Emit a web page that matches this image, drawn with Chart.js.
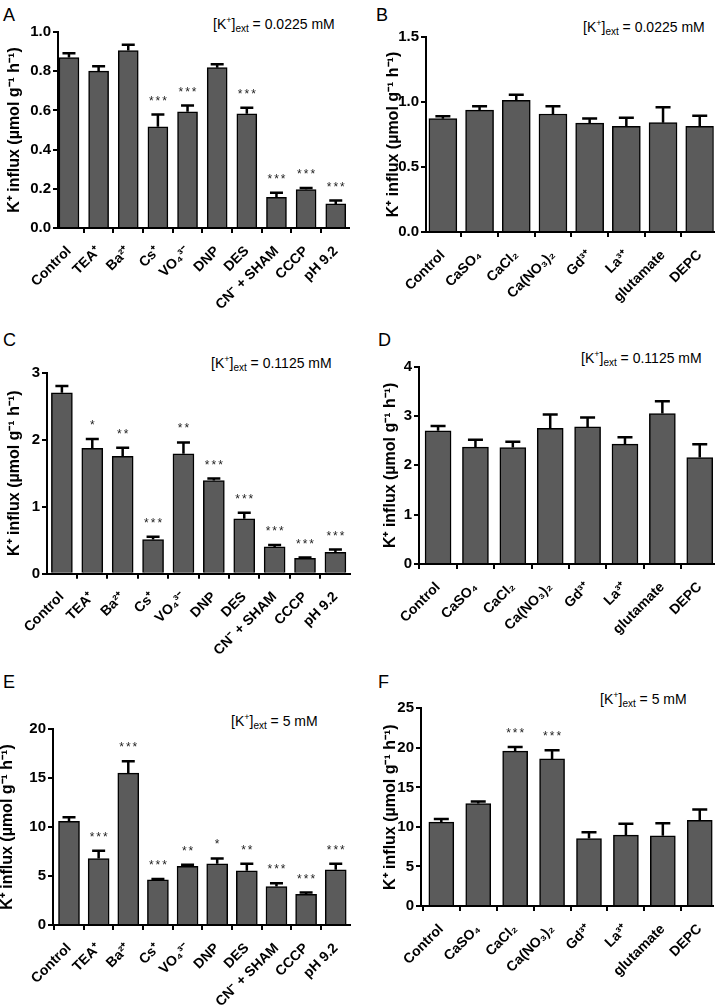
<!DOCTYPE html>
<html><head><meta charset="utf-8">
<script src="https://cdn.jsdelivr.net/npm/chart.js@4.4.0/dist/chart.umd.min.js"></script>
<style>
html,body{margin:0;padding:0;background:#fff;width:722px;height:1007px;overflow:hidden;position:relative;font-family:"Liberation Sans",Arial,sans-serif;}
canvas{position:absolute;}
.lbl{position:absolute;white-space:nowrap;color:#000;line-height:1;}
.pl{font-size:18px;}
.an{font-size:14px;}
.an .sup{font-size:9px;position:relative;top:-6px;}
.an .sub{font-size:10px;position:relative;top:3px;}
</style></head><body>
<div class="lbl pl" style="left:3px;top:6px">A</div>
<div class="lbl pl" style="left:376px;top:6px">B</div>
<div class="lbl pl" style="left:3px;top:331px">C</div>
<div class="lbl pl" style="left:378px;top:331px">D</div>
<div class="lbl pl" style="left:3px;top:673px">E</div>
<div class="lbl pl" style="left:378px;top:673px">F</div>
<div class="lbl an" style="left:213px;top:16.5px">[K<span class="sup">+</span>]<span class="sub">ext</span> = 0.0225 mM</div>
<div class="lbl an" style="left:583px;top:20px">[K<span class="sup">+</span>]<span class="sub">ext</span> = 0.0225 mM</div>
<div class="lbl an" style="left:211px;top:355.5px">[K<span class="sup">+</span>]<span class="sub">ext</span> = 0.1125 mM</div>
<div class="lbl an" style="left:581px;top:350.5px">[K<span class="sup">+</span>]<span class="sub">ext</span> = 0.1125 mM</div>
<div class="lbl an" style="left:231px;top:714px">[K<span class="sup">+</span>]<span class="sub">ext</span> = 5 mM</div>
<div class="lbl an" style="left:600px;top:691.5px">[K<span class="sup">+</span>]<span class="sub">ext</span> = 5 mM</div>
<script>
// ---- data ----
const catsInhib = ['Control', 'TEA⁺', 'Ba²⁺', 'Cs⁺', 'VO₄³⁻', 'DNP', 'DES', 'CN⁻ + SHAM', 'CCCP', 'pH 9.2'];
const catsCa = ['Control', 'CaSO₄', 'CaCl₂', 'Ca(NO₃)₂', 'Gd³⁺', 'La³⁺', 'glutamate', 'DEPC'];

const valsA = [0.870, 0.800, 0.905, 0.516, 0.593, 0.818, 0.583, 0.157, 0.196, 0.123];
const errA  = [0.021, 0.025, 0.030, 0.063, 0.032, 0.017, 0.030, 0.023, 0.008, 0.017];
const sigA  = ['', '', '', '***', '***', '', '***', '***', '***', '***'];

const valsB = [0.872, 0.938, 1.013, 0.908, 0.838, 0.813, 0.841, 0.813];
const errB  = [0.018, 0.029, 0.043, 0.059, 0.036, 0.066, 0.118, 0.082];
const sigB  = ['', '', '', '', '', '', '', ''];

const valsC = [2.70, 1.87, 1.75, 0.51, 1.79, 1.39, 0.82, 0.40, 0.23, 0.32];
const errC  = [0.10, 0.14, 0.13, 0.04, 0.17, 0.03, 0.09, 0.03, 0.01, 0.04];
const sigC  = ['', '*', '**', '***', '**', '***', '***', '***', '***', '***'];

const valsD = [2.70, 2.37, 2.36, 2.75, 2.78, 2.43, 3.05, 2.16];
const errD  = [0.10, 0.15, 0.12, 0.28, 0.19, 0.14, 0.25, 0.27];
const sigD  = ['', '', '', '', '', '', '', ''];

const valsE = [10.57, 6.79, 15.5, 4.6, 5.98, 6.25, 5.54, 3.92, 3.14, 5.64];
const errE  = [0.43, 0.78, 1.2, 0.1, 0.17, 0.54, 0.71, 0.34, 0.17, 0.61];
const sigE  = ['', '***', '***', '***', '**', '*', '**', '***', '***', '***'];

const valsF = [10.6, 12.96, 19.58, 18.6, 8.54, 8.96, 8.88, 10.83];
const errF  = [0.4, 0.24, 0.54, 1.1, 0.79, 1.44, 1.58, 1.37];
const sigF  = ['', '', '***', '***', '', '', '', ''];

const yMaxA = 1.0, yStepA = 0.2;
const yMaxB = 1.5, yStepB = 0.5;
const yMaxC = 3, yStepC = 1;
const yMaxD = 4, yStepD = 1;
const yMaxE = 20, yStepE = 5;
const yMaxF = 25, yStepF = 5;

const yTitle = 'K⁺ influx (µmol g⁻¹ h⁻¹)';

// ---- layout (page geometry of each panel) ----
const layouts = {
  A: {cx: 1,   cy: 0,   cw: 357, ch: 330, axisX: 58,  xMin: -0.37, xMax: 9.45, yTop: 32,    y0: 228,   barW: 20, cap: 6.5},
  B: {cx: 380, cy: 0,   cw: 342, ch: 330, axisX: 426, xMin: -0.46, xMax: 7.38, yTop: 37,    y0: 232,   barW: 28, cap: 7.5},
  C: {cx: 1,   cy: 330, cw: 357, ch: 330, axisX: 47,  xMin: -0.49, xMax: 9.48, yTop: 372.7, y0: 573.7, barW: 21, cap: 6.5},
  D: {cx: 377, cy: 330, cw: 345, ch: 330, axisX: 419, xMin: -0.51, xMax: 7.37, yTop: 366.7, y0: 564,   barW: 26, cap: 7.5},
  E: {cx: -6,  cy: 660, cw: 364, ch: 347, axisX: 53,  xMin: -0.54, xMax: 9.47, yTop: 729,   y0: 925,   barW: 21, cap: 6.5},
  F: {cx: 377, cy: 660, cw: 345, ch: 347, axisX: 421, xMin: -0.55, xMax: 7.36, yTop: 708.3, y0: 906,   barW: 25, cap: 7.5}
};

Chart.defaults.font.family = '"Liberation Sans", Arial, sans-serif';
Chart.defaults.color = '#000';

const errPlugin = {
  id: 'errbars',
  afterDatasetsDraw(chart, args, opts) {
    const ctx = chart.ctx, y = chart.scales.y;
    const ds = chart.data.datasets[0];
    const meta = chart.getDatasetMeta(0);
    ctx.save();
    ctx.strokeStyle = '#000';
    ctx.lineWidth = 2.5;
    meta.data.forEach((bar, i) => {
      const top = y.getPixelForValue(ds.data[i].y + ds.errors[i]);
      ctx.beginPath();
      ctx.moveTo(bar.x, bar.y);
      ctx.lineTo(bar.x, top);
      ctx.moveTo(bar.x - opts.cap, top);
      ctx.lineTo(bar.x + opts.cap, top);
      ctx.stroke();
      if (ds.sig[i]) {
        ctx.fillStyle = '#222';
        ctx.font = '12px "Liberation Sans", Arial, sans-serif';
        ctx.letterSpacing = '2px';
        ctx.textAlign = 'center';
        ctx.textBaseline = 'alphabetic';
        ctx.fillText(ds.sig[i], bar.x + 1, top - 10);
      }
    });
    ctx.restore();
  }
};

function makePanel(key, cats, vals, errs, sig, yMax, yStep, dec) {
  const L = layouts[key];
  const cv = document.createElement('canvas');
  cv.width = L.cw; cv.height = L.ch;
  cv.style.left = L.cx + 'px'; cv.style.top = L.cy + 'px';
  cv.style.width = L.cw + 'px'; cv.style.height = L.ch + 'px';
  document.body.appendChild(cv);
  new Chart(cv, {
    type: 'bar',
    data: {
      datasets: [{
        data: vals.map((v, i) => ({x: i, y: v})),
        errors: errs,
        sig: sig,
        backgroundColor: '#5b5b5b',
        borderColor: '#000',
        borderWidth: 1.5,
        barThickness: L.barW
      }]
    },
    plugins: [errPlugin],
    options: {
      responsive: false,
      animation: false,
      devicePixelRatio: 1,
      layout: {padding: {left: 0, top: L.yTop - L.cy, right: 8, bottom: 0}},
      plugins: {legend: {display: false}, tooltip: {enabled: false}, errbars: {cap: L.cap}},
      scales: {
        x: {
          type: 'linear', min: L.xMin, max: L.xMax, offset: false,
          afterBuildTicks: s => { s.ticks = cats.map((_, i) => ({value: i})); },
          afterFit: s => { s.height = L.cy + L.ch - L.y0; },
          ticks: {autoSkip: false, minRotation: 45, maxRotation: 45, padding: 10,
                  font: {size: 14, weight: 'bold'}, color: '#000',
                  callback: v => cats[Math.round(v)]},
          grid: {drawOnChartArea: false, drawTicks: true, tickLength: 5, color: '#000', lineWidth: 2},
          border: {display: true, color: '#000', width: 2}
        },
        y: {
          min: 0, max: yMax,
          afterFit: s => { s.width = L.axisX - L.cx; },
          ticks: {stepSize: yStep, padding: 2, font: {size: 15, weight: 'bold'}, color: '#000',
                  callback: v => v.toFixed(dec)},
          grid: {drawOnChartArea: false, drawTicks: true, tickLength: 5, color: '#000', lineWidth: 2},
          border: {display: true, color: '#000', width: 2},
          title: {display: true, text: yTitle, font: {size: 16, weight: 'bold'}, color: '#000', padding: {top: 4, bottom: 4}}
        }
      }
    }
  });
}

makePanel('A', catsInhib, valsA, errA, sigA, yMaxA, yStepA, 1);
makePanel('B', catsCa, valsB, errB, sigB, yMaxB, yStepB, 1);
makePanel('C', catsInhib, valsC, errC, sigC, yMaxC, yStepC, 0);
makePanel('D', catsCa, valsD, errD, sigD, yMaxD, yStepD, 0);
makePanel('E', catsInhib, valsE, errE, sigE, yMaxE, yStepE, 0);
makePanel('F', catsCa, valsF, errF, sigF, yMaxF, yStepF, 0);
</script>
</body></html>
